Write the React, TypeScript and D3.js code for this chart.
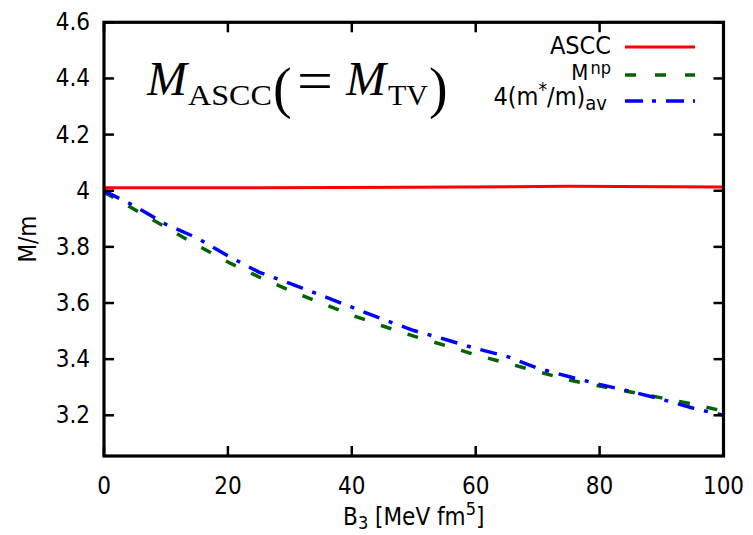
import React from "react";
import * as d3 from "d3";

// B3 coupling grid [MeV fm^5]
const b3 = [0, 5, 10, 15, 20, 25, 30, 35, 40, 45, 50, 55, 60, 65, 70, 75, 80, 85, 90, 95, 100];
// ASCC inertial mass (computed on a coarser grid)
const asccB3 = [0, 25, 50, 75, 100];
const asccMass = [4.011, 4.011, 4.012, 4.016, 4.013];
// M^np
const npMass = [3.995, 3.932, 3.870, 3.806, 3.746, 3.693, 3.645, 3.600, 3.557, 3.518, 3.482, 3.449,
  3.415, 3.386, 3.356, 3.326, 3.304, 3.283, 3.262, 3.240, 3.215];
// 4(m*/m)_av
const effMass = [4.0, 3.945, 3.880, 3.832, 3.768, 3.710, 3.670, 3.628, 3.585, 3.542, 3.502, 3.471,
  3.438, 3.410, 3.368, 3.338, 3.310, 3.285, 3.257, 3.226, 3.200];

const xTicks = [0, 20, 40, 60, 80, 100];
const yTicks = [3.2, 3.4, 3.6, 3.8, 4.0, 4.2, 4.4, 4.6];

const FONT = "'DejaVu Sans Condensed', 'DejaVu Sans', sans-serif";
const SERIF = "'Liberation Serif', serif";

export default function App() {
  const W = 753, H = 535;
  const L = 104, R = 723.5, T = 22.3, B = 456;
  const x = d3.scaleLinear().domain([0, 100]).range([L, R]);
  const y = d3.scaleLinear().domain([3.055, 4.6]).range([B, T]);
  const line = d3.line<[number, number]>().x(d => x(d[0])).y(d => y(d[1]));

  const asccPath = line(asccB3.map((v, i) => [v, asccMass[i]]))!;
  const npPath = line(b3.map((v, i) => [v, npMass[i]]))!;
  const effPath = line(b3.map((v, i) => [v, effMass[i]]))!;

  const tickLen = 10;
  const legendX1 = 625, legendX2 = 695;

  return (
    <svg width={W} height={H} style={{ position: "absolute", left: 0, top: 0, background: "#fff" }}
      fontFamily={FONT} fontStretch="condensed">
      {/* data curves, clipped to the plot frame */}
      <defs>
        <clipPath id="plot">
          <rect x={L} y={T} width={R - L} height={B - T} />
        </clipPath>
      </defs>
      <g clipPath="url(#plot)" fill="none">
        <path d={asccPath} stroke="#ff0000" strokeWidth={3} />
        <path d={npPath} stroke="#006400" strokeWidth={3.5} strokeDasharray="11,17" />
        <path d={effPath} stroke="#0000ff" strokeWidth={3.5} strokeDasharray="17,10,4,10" />
      </g>

      {/* ticks, mirrored on all four sides */}
      <g stroke="#000" strokeWidth={2.5}>
        {xTicks.map(t => (
          <g key={"xt" + t}>
            <line x1={x(t)} x2={x(t)} y1={B} y2={B - tickLen} />
            <line x1={x(t)} x2={x(t)} y1={T} y2={T + tickLen} />
          </g>
        ))}
        {yTicks.map(t => (
          <g key={"yt" + t}>
            <line x1={L} x2={L + tickLen} y1={y(t)} y2={y(t)} />
            <line x1={R} x2={R - tickLen} y1={y(t)} y2={y(t)} />
          </g>
        ))}
      </g>

      {/* frame */}
      <rect x={L} y={T} width={R - L} height={B - T} fill="none" stroke="#000" strokeWidth={3.2} />

      {/* tick labels */}
      <g fontSize={24} fill="#000">
        {xTicks.map(t => (
          <text key={"xl" + t} x={x(t)} y={494} textAnchor="middle">{t}</text>
        ))}
        {yTicks.map(t => (
          <text key={"yl" + t} x={90} y={y(t)} textAnchor="end" dominantBaseline="central">
            {t === 4 ? "4" : t.toFixed(1)}
          </text>
        ))}
      </g>

      {/* axis titles */}
      <text x={(L + R) / 2} y={525} textAnchor="middle" fontSize={24}>
        B<tspan fontSize={18} dy={4}>3</tspan>
        <tspan dy={-4}> [MeV fm</tspan>
        <tspan fontSize={18} dy={-10}>5</tspan>
        <tspan dy={10}>]</tspan>
      </text>
      <text transform={`translate(36,${(T + B) / 2}) rotate(-90)`} textAnchor="middle" fontSize={24}>M/m</text>

      {/* formula annotation */}
      <g fontFamily={SERIF} fill="#000">
        <text x={147} y={95} fontSize={48} fontStyle="italic">M</text>
        <text x={188} y={105} fontSize={29} textLength={84} lengthAdjust="spacingAndGlyphs">ASCC</text>
        <text x={273} y={107} fontSize={56}>(</text>
        <text x={297} y={100} fontSize={56} textLength={36} lengthAdjust="spacingAndGlyphs">=</text>
        <text x={346} y={95} fontSize={48} fontStyle="italic">M</text>
        <text x={388} y={105} fontSize={29} textLength={40} lengthAdjust="spacingAndGlyphs">TV</text>
        <text x={429} y={107} fontSize={56}>)</text>
      </g>

      {/* legend */}
      <g fill="#000">
        <text x={611} y={54} textAnchor="end" fontSize={25}>ASCC</text>
        <line x1={legendX1} x2={legendX2} y1={47} y2={47} stroke="#ff0000" strokeWidth={3} />

        <text x={611} y={80} textAnchor="end" fontSize={22}>
          M<tspan fontSize={18} dx={2} dy={-6}>np</tspan>
        </text>
        <line x1={legendX1} x2={legendX2} y1={75} y2={75} stroke="#006400" strokeWidth={3.5} strokeDasharray="11,19" />

        <text x={607} y={105} textAnchor="end" fontSize={25}>
          4(m<tspan fontSize={19} dy={-9}>*</tspan>
          <tspan dy={9}>/m)</tspan>
          <tspan fontSize={20} dy={5}>av</tspan>
        </text>
        <line x1={legendX1} x2={legendX2} y1={101} y2={101} stroke="#0000ff" strokeWidth={3.5} strokeDasharray="18,9,4,10" />
      </g>
    </svg>
  );
}
